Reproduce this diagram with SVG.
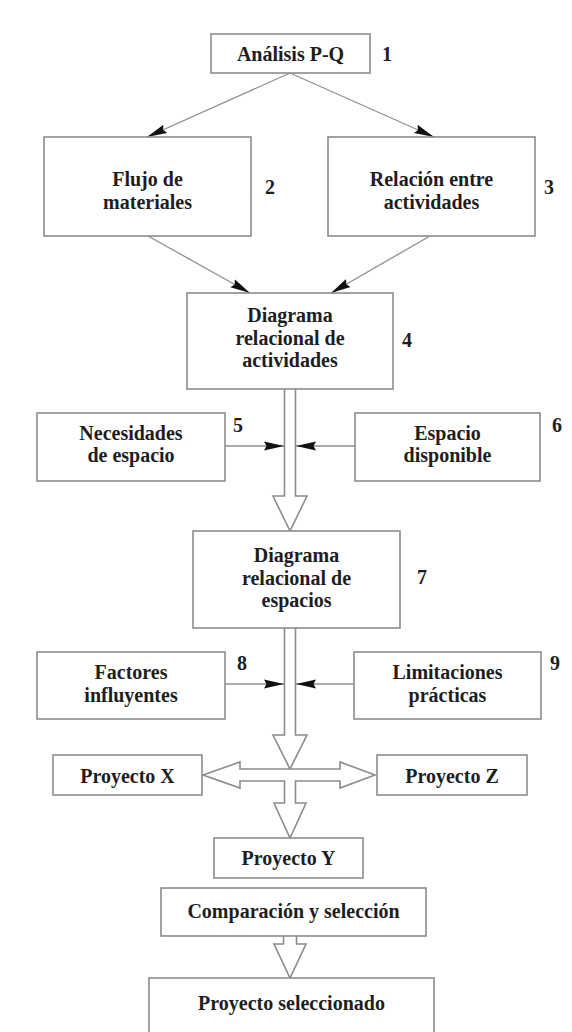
<svg xmlns="http://www.w3.org/2000/svg" width="572" height="1032" viewBox="0 0 572 1032">
  <style>
    .box { fill: #ffffff; stroke: #8c8c8c; stroke-width: 1.6; }
    .lbl { font-family: "Liberation Serif", "Times New Roman", serif; font-weight: bold; font-size: 20px; fill: #1e1e1e; text-anchor: middle; }
    .num { font-family: "Liberation Serif", "Times New Roman", serif; font-weight: bold; font-size: 20px; fill: #1e1e1e; text-anchor: middle; }
    .line { fill: none; stroke: #8f8f8f; stroke-width: 1.3; }
    .hollow { fill: #ffffff; stroke: #8c8c8c; stroke-width: 1.6; stroke-linejoin: miter; }
  </style>
  <defs>
    <marker id="head" markerUnits="userSpaceOnUse" markerWidth="22" markerHeight="12" refX="20" refY="6" orient="auto">
      <path d="M0,1.5 L20,6 L0,10.5 L2.5,6 Z" fill="#111111"/>
    </marker>
  </defs>
  <rect width="572" height="1032" fill="#ffffff"/>

  <!-- connectors -->
  <g id="connectors">
    <line class="line" x1="290" y1="73" x2="147" y2="137" marker-end="url(#head)"/>
    <line class="line" x1="290" y1="73" x2="434" y2="137" marker-end="url(#head)"/>
    <line class="line" x1="148" y1="236" x2="250" y2="293" marker-end="url(#head)"/>
    <line class="line" x1="430" y1="236" x2="331" y2="293" marker-end="url(#head)"/>
    <line class="line" x1="225" y1="446" x2="284" y2="446" marker-end="url(#head)"/>
    <line class="line" x1="355" y1="446" x2="296" y2="446" marker-end="url(#head)"/>
    <line class="line" x1="225" y1="684" x2="284" y2="684" marker-end="url(#head)"/>
    <line class="line" x1="354" y1="684" x2="296" y2="684" marker-end="url(#head)"/>
    <!-- hollow flow arrows -->
    <path class="hollow" d="M284.5,389 V496 H273 L290,531 L307,496 H295.5 V389"/>
    <path class="hollow" d="M284.5,628 V735 H273 L290,769 L307,735 H295.5 V628"/>
    <path class="hollow" d="M240,769 V762 L203,775 L240,788 V781 H284.5 V803 H274 L290,838 L306,803 H295.5 V781 H340 V788 L375,775 L340,762 V769 Z"/>
    <path class="hollow" d="M283.5,936 V944 H274 L290,978 L306,944 H296.5 V936"/>
  </g>

  <g id="n1">
    <rect class="box" x="211" y="34" width="159" height="39"/>
    <text class="lbl" x="290.5" y="61">Análisis P-Q</text>
    <text class="num" x="387" y="61">1</text>
  </g>
  <g id="n2">
    <rect class="box" x="44" y="137" width="207" height="99"/>
    <text class="lbl" x="147.5" y="186.25">Flujo de</text>
    <text class="lbl" x="147.5" y="208.75">materiales</text>
    <text class="num" x="270" y="194">2</text>
  </g>
  <g id="n3">
    <rect class="box" x="328" y="137" width="207" height="99"/>
    <text class="lbl" x="431.5" y="186.25">Relación entre</text>
    <text class="lbl" x="431.5" y="208.75">actividades</text>
    <text class="num" x="549" y="194">3</text>
  </g>
  <g id="n4">
    <rect class="box" x="187" y="293" width="206" height="96"/>
    <text class="lbl" x="290" y="322">Diagrama</text>
    <text class="lbl" x="290" y="344.5">relacional de</text>
    <text class="lbl" x="290" y="367">actividades</text>
    <text class="num" x="407" y="347">4</text>
  </g>
  <g id="n5">
    <rect class="box" x="37" y="413" width="188" height="68"/>
    <text class="lbl" x="131" y="439.75">Necesidades</text>
    <text class="lbl" x="131" y="462.25">de espacio</text>
    <text class="num" x="238" y="432">5</text>
  </g>
  <g id="n6">
    <rect class="box" x="355" y="413" width="185" height="68"/>
    <text class="lbl" x="447.5" y="439.75">Espacio</text>
    <text class="lbl" x="447.5" y="462.25">disponible</text>
    <text class="num" x="557" y="432">6</text>
  </g>
  <g id="n7">
    <rect class="box" x="193" y="531" width="207" height="97"/>
    <text class="lbl" x="296.5" y="562">Diagrama</text>
    <text class="lbl" x="296.5" y="584.5">relacional de</text>
    <text class="lbl" x="296.5" y="607">espacios</text>
    <text class="num" x="422" y="584">7</text>
  </g>
  <g id="n8">
    <rect class="box" x="37" y="652" width="188" height="67"/>
    <text class="lbl" x="131" y="679.25">Factores</text>
    <text class="lbl" x="131" y="701.75">influyentes</text>
    <text class="num" x="242" y="670">8</text>
  </g>
  <g id="n9">
    <rect class="box" x="354" y="652" width="187" height="67"/>
    <text class="lbl" x="447.5" y="679.25">Limitaciones</text>
    <text class="lbl" x="447.5" y="701.75">prácticas</text>
    <text class="num" x="555" y="670">9</text>
  </g>
  <g id="nX">
    <rect class="box" x="53" y="755" width="149" height="40"/>
    <text class="lbl" x="127.5" y="783">Proyecto X</text>
  </g>
  <g id="nZ">
    <rect class="box" x="377" y="755" width="150" height="40"/>
    <text class="lbl" x="452" y="783">Proyecto Z</text>
  </g>
  <g id="nY">
    <rect class="box" x="214" y="838" width="149" height="40"/>
    <text class="lbl" x="288.5" y="865">Proyecto Y</text>
  </g>
  <g id="nComp">
    <rect class="box" x="161" y="888" width="265" height="48"/>
    <text class="lbl" x="293.5" y="918">Comparación y selección</text>
  </g>
  <g id="nSel">
    <rect class="box" x="149" y="978" width="285" height="70"/>
    <text class="lbl" x="291.5" y="1010">Proyecto seleccionado</text>
  </g>
</svg>
